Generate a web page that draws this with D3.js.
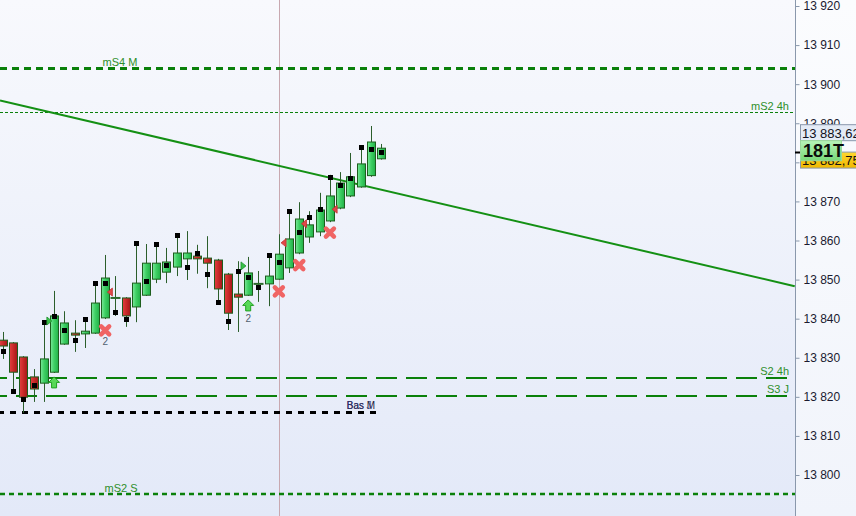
<!DOCTYPE html>
<html><head><meta charset="utf-8">
<script src="https://cdn.jsdelivr.net/npm/d3@7"></script>
<style>html,body{margin:0;padding:0;overflow:hidden;background:#fff}svg{display:block}</style>
</head><body><svg id="c" width="856" height="516"></svg>
<script>
// ---- data ----
const opens  = [13834.5,13833.8,13830.2,13825.1,13823.5,13826.3,13833.5,13836.3,13836.1,13836.3,13840.2,13845.3,13845.3,13843.0,13846.0,13850.1,13851.9,13853.2,13855.3,13856.0,13855.5,13855.0,13851.4,13846.3,13846.0,13848.9,13848.9,13850.1,13853.0,13856.8,13860.9,13862.2,13865.0,13868.3,13871.4,13873.7,13876.6,13880.9];
const highs  = [13836.6,13834.0,13830.4,13827.1,13839.1,13847.1,13841.9,13839.6,13840.4,13849.1,13856.3,13850.9,13845.5,13859.4,13859.1,13859.1,13858.1,13861.9,13862.4,13858.9,13861.1,13855.3,13851.7,13854.7,13855.8,13852.2,13856.3,13861.6,13867.5,13869.8,13867.5,13872.2,13876.8,13877.5,13882.4,13883.7,13889.3,13884.7];
const lows   = [13829.7,13821.7,13815.9,13818.7,13818.7,13826.1,13833.3,13831.5,13832.5,13836.1,13839.9,13840.7,13837.9,13839.1,13845.8,13849.1,13849.1,13850.9,13849.9,13851.5,13847.8,13843.7,13837.1,13836.6,13845.8,13844.3,13843.2,13849.9,13851.7,13856.5,13859.4,13861.1,13864.7,13868.0,13871.1,13873.5,13876.3,13880.7];
const closes = [13833.0,13826.3,13819.9,13822.0,13829.7,13840.7,13838.9,13835.8,13836.8,13844.0,13850.4,13845.2,13840.7,13849.1,13854.2,13854.2,13854.5,13856.8,13856.8,13855.3,13854.2,13847.6,13841.4,13845.5,13851.7,13848.7,13850.9,13856.5,13860.4,13865.5,13864.0,13867.8,13871.4,13874.7,13876.3,13879.6,13885.2,13883.62];
const dots   = [13831.7,13821.5,13819.4,13823.0,13839.1,13840.7,13837.1,13834.5,13839.9,13849.1,13849.1,13841.7,13839.9,13859.4,13849.6,13859.1,13853.7,13861.4,13853.2,13856.8,13851.5,13844.3,13839.4,13852.2,13850.6,13848.1,13856.3,13854.5,13867.5,13862.2,13866.0,13868.0,13876.2,13874.2,13876.0,13883.9,13883.4,13882.6];

const levelNames  = ["mS4 M","mS2 4h","S2 4h","S3 J","Bas M","mS2 S"];
const levelValues = [13904.1,13892.8,13824.8,13820.2,13816.1,13795.1];

const trendIdx    = [-0.29, 77.5];
const trendPrice  = [13895.8, 13848.3];

const crossIdx = [10,27,29,32];
const crossPrice = [13837.0,13847.0,13853.7,13862.0];
const countIdx = [10,24];
const countPrice = [13834.3,13840.2];
const countText = ["2","2"];
const redTriIdx = [11,28,30,33];
const redTriPrice = [13846.8,13859.4,13864.3,13868.0];
const greenTriIdx = [4,23];
const greenTriPrice = [13839.4,13853.5];
const arrowIdx = [5,24];
const arrowPrice = [13825.1,13844.8];

const cursorIdx = 27;
const yTicks = [13800,13810,13820,13830,13840,13850,13860,13870,13880,13890,13900,13910,13920];
const lastPrice = 13883.62;
const lastText = "13 883,62";
const otherPrice = 13882.75;
const otherText = "13 882,75";
const tickCountText = "181T";

// ---- drawing ----
const W = 856, H = 516, plotW = 795;
const svg = d3.select("#c");
const defs = svg.append("defs");
const bg = defs.append("linearGradient").attr("id","bg").attr("x1",0).attr("y1",0).attr("x2",0).attr("y2",1);
bg.append("stop").attr("offset","0%").attr("stop-color","#f8f9fd");
bg.append("stop").attr("offset","100%").attr("stop-color","#e3e9f8");
const bg2 = defs.append("linearGradient").attr("id","bg2").attr("x1",0).attr("y1",0).attr("x2",0).attr("y2",1);
bg2.append("stop").attr("offset","0%").attr("stop-color","#fbfcfe");
bg2.append("stop").attr("offset","100%").attr("stop-color","#f1f4fb");
const gg = defs.append("linearGradient").attr("id","gbody").attr("x1",0).attr("y1",0).attr("x2",1).attr("y2",0);
gg.append("stop").attr("offset","0%").attr("stop-color","#7ae89a");
gg.append("stop").attr("offset","45%").attr("stop-color","#3fd064");
gg.append("stop").attr("offset","100%").attr("stop-color","#22b048");
const rg = defs.append("linearGradient").attr("id","rbody").attr("x1",0).attr("y1",0).attr("x2",1).attr("y2",0);
rg.append("stop").attr("offset","0%").attr("stop-color","#e04040");
rg.append("stop").attr("offset","50%").attr("stop-color","#c82828");
rg.append("stop").attr("offset","100%").attr("stop-color","#a01818");
const tg = defs.append("linearGradient").attr("id","tbox").attr("x1",0).attr("y1",0).attr("x2",0).attr("y2",1);
tg.append("stop").attr("offset","0%").attr("stop-color","#b8f4b8");
tg.append("stop").attr("offset","100%").attr("stop-color","#78d878");
const yg = defs.append("linearGradient").attr("id","ybox").attr("x1",0).attr("y1",0).attr("x2",0).attr("y2",1);
yg.append("stop").attr("offset","0%").attr("stop-color","#ffd830");
yg.append("stop").attr("offset","100%").attr("stop-color","#f0b800");
defs.append("clipPath").attr("id","plotclip").append("rect").attr("x",0).attr("y",0).attr("width",plotW).attr("height",H);

svg.append("rect").attr("x",0).attr("y",0).attr("width",plotW).attr("height",H).attr("fill","url(#bg)");
svg.append("rect").attr("x",plotW).attr("y",0).attr("width",W-plotW).attr("height",H).attr("fill","url(#bg2)");

const x = d3.scaleLinear().domain([0,37]).range([3,381]);
const y = d3.scaleLinear().domain([13800,13920]).range([475,6]);

const plot = svg.append("g").attr("clip-path","url(#plotclip)");

// cursor line
plot.append("line").attr("x1",Math.round(x(cursorIdx))+0.5).attr("x2",Math.round(x(cursorIdx))+0.5)
  .attr("y1",0).attr("y2",H).attr("stroke","#c8a8b0").attr("stroke-width",1);

// level lines
const lvStyle = [
  {w:3, dash:"7,5", off:0, color:"#0a800a", x1:plotW, lx:120, anchor:"middle", dy:-3, fs:11, fc:"#2e8f2a"},
  {w:1, dash:"3,2", off:0, color:"#0a800a", x1:plotW, lx:789, anchor:"end", dy:-3, fs:11, fc:"#2e8f2a"},
  {w:2, dash:"21,9", off:14, color:"#0a800a", x1:787, lx:789, anchor:"end", dy:-3, fs:11, fc:"#2e8f2a"},
  {w:2, dash:"21,9", off:14, color:"#0a800a", x1:787, lx:789, anchor:"end", dy:-3, fs:11, fc:"#2e8f2a"},
  {w:3, dash:"6,6", off:2, color:"#000000", x1:378, lx:361, anchor:"middle", dy:-4, fs:10, fc:"#202040"},
  {w:2.5, dash:"5,4", off:0, color:"#0a800a", x1:plotW, lx:121, anchor:"middle", dy:-2, fs:11, fc:"#2e8f2a"}
];
levelValues.forEach((v,i)=>{
  const s = lvStyle[i];
  const yy = Math.round(y(v)) + (s.w%2===1?0.5:0);
  plot.append("line").attr("x1",0).attr("x2",s.x1).attr("y1",yy).attr("y2",yy)
    .attr("stroke",s.color).attr("stroke-width",s.w).attr("stroke-dasharray",s.dash).attr("stroke-dashoffset",s.off);
  plot.append("text").attr("x",s.lx).attr("y",yy+s.dy).attr("text-anchor",s.anchor)
    .attr("font-family","Liberation Sans, Arial, sans-serif").attr("font-size",s.fs).attr("fill",s.fc).text(levelNames[i]);
  if(i===4){
    plot.append("text").attr("x",s.lx-2).attr("y",yy+s.dy).attr("text-anchor",s.anchor)
      .attr("font-family","Liberation Sans, Arial, sans-serif").attr("font-size",s.fs).attr("fill","#303070").attr("opacity",0.8).text("Bas J");
  }
});

// trend line
plot.append("line").attr("x1",x(trendIdx[0])).attr("y1",y(trendPrice[0])).attr("x2",x(trendIdx[1])).attr("y2",y(trendPrice[1]))
  .attr("stroke","#149014").attr("stroke-width",2);

// candles
const cg = plot.append("g");
opens.forEach((o,i)=>{
  const cx = Math.round(x(i))+0.5;
  const c = closes[i];
  cg.append("line").attr("x1",cx).attr("x2",cx).attr("y1",y(highs[i])).attr("y2",y(lows[i]))
    .attr("stroke","#2b5e2b").attr("stroke-width",1);
  const top = y(Math.max(o,c)), bot = y(Math.min(o,c));
  const hgt = bot-top;
  if(hgt < 1.2){
    cg.append("rect").attr("x",cx-5).attr("y",top-1).attr("width",10).attr("height",2).attr("fill","#2b6a2b");
  } else {
    cg.append("rect").attr("x",cx-4).attr("y",top).attr("width",8).attr("height",Math.max(hgt,2))
      .attr("fill", c>=o ? "url(#gbody)" : "url(#rbody)").attr("stroke","#1d5e1d").attr("stroke-width",1);
  }
});

// black dots
plot.selectAll(".dot").data(dots).enter().append("rect")
  .attr("x",(d,i)=>Math.round(x(i))-2).attr("y",d=>Math.round(y(d))-2).attr("width",5).attr("height",5).attr("fill","#000");

// red crosses
crossIdx.forEach((ix,k)=>{
  const cx = x(ix), cy = y(crossPrice[k]);
  plot.append("path").attr("d",`M${cx-4},${cy-4}L${cx+4},${cy+4}M${cx+4},${cy-4}L${cx-4},${cy+4}`)
    .attr("stroke","#f06464").attr("stroke-width",4.5).attr("stroke-linecap","round");
});
countIdx.forEach((ix,k)=>{
  plot.append("text").attr("x",x(ix)).attr("y",y(countPrice[k])+4).attr("text-anchor","middle")
    .attr("font-family","Liberation Sans, Arial, sans-serif").attr("font-size",10).attr("fill","#506070").text(countText[k]);
});
// red triangles (left-pointing)
redTriIdx.forEach((ix,k)=>{
  const tx = x(ix)-5, ty = y(redTriPrice[k]);
  plot.append("path").attr("d",`M${tx-3},${ty}L${tx+2},${ty-4}L${tx+2},${ty+4}Z`).attr("fill","#e04848").attr("stroke","#c03030").attr("stroke-width",0.8);
});
// green triangles (right-pointing)
greenTriIdx.forEach((ix,k)=>{
  const tx = x(ix)+5, ty = y(greenTriPrice[k]);
  plot.append("path").attr("d",`M${tx+3},${ty}L${tx-2},${ty-4}L${tx-2},${ty+4}Z`).attr("fill","#38c048").attr("stroke","#209030").attr("stroke-width",0.8);
});
// green up arrows
arrowIdx.forEach((ix,k)=>{
  const ax = x(ix), ay = y(arrowPrice[k]);
  plot.append("path").attr("d",`M${ax},${ay}L${ax+5.5},${ay+5.5}L${ax+2.5},${ay+5.5}L${ax+2.5},${ay+11}L${ax-2.5},${ay+11}L${ax-2.5},${ay+5.5}L${ax-5.5},${ay+5.5}Z`)
    .attr("fill","#58d858").attr("stroke","#20a020").attr("stroke-width",1);
});

// axis
const axisG = svg.append("g").attr("transform",`translate(${plotW+0.5},0)`)
  .call(d3.axisRight(y).tickValues(yTicks).tickSize(4).tickPadding(4).tickFormat(d=>d3.format(",")(d).replace(/,/g," ")));
axisG.select(".domain").attr("stroke","#8a98ac").attr("d",`M0,0V${H}`);
axisG.selectAll(".tick line").attr("stroke","#8a98ac");
axisG.selectAll(".tick text").attr("font-family","Liberation Sans, Arial, sans-serif").attr("font-size",12).attr("fill","#1a1a30");

// price boxes
const yl = y(otherPrice);
svg.append("line").attr("x1",plotW).attr("x2",plotW+5).attr("y1",Math.round(yl)+0.5).attr("y2",Math.round(yl)+0.5).attr("stroke","#000").attr("stroke-width",2);
svg.append("rect").attr("x",800.5).attr("y",yl+0.5).attr("width",60).attr("height",16).attr("fill","url(#ybox)").attr("stroke","#8a98ac");
svg.append("text").attr("x",802).attr("y",yl+13).attr("font-family","Liberation Sans, Arial, sans-serif").attr("font-size",13).attr("fill","#101010").text(otherText);
const yp = y(lastPrice);
svg.append("rect").attr("x",800.5).attr("y",yp-23.5).attr("width",60).attr("height",16).attr("fill","#e4ebf6").attr("stroke","#8a98ac");
svg.append("text").attr("x",802).attr("y",yp-10.5).attr("font-family","Liberation Sans, Arial, sans-serif").attr("font-size",13).attr("fill","#101020").text(lastText);
svg.append("rect").attr("x",800.5).attr("y",yp-7.5).attr("width",41).attr("height",20).attr("fill","url(#tbox)").attr("stroke","#9ad89a");
svg.append("text").attr("x",803).attr("y",yp+9).attr("font-family","Liberation Sans, Arial, sans-serif").attr("font-size",18).attr("font-weight","bold").attr("fill","#0a0a0a").text(tickCountText);
</script>
</body></html>
